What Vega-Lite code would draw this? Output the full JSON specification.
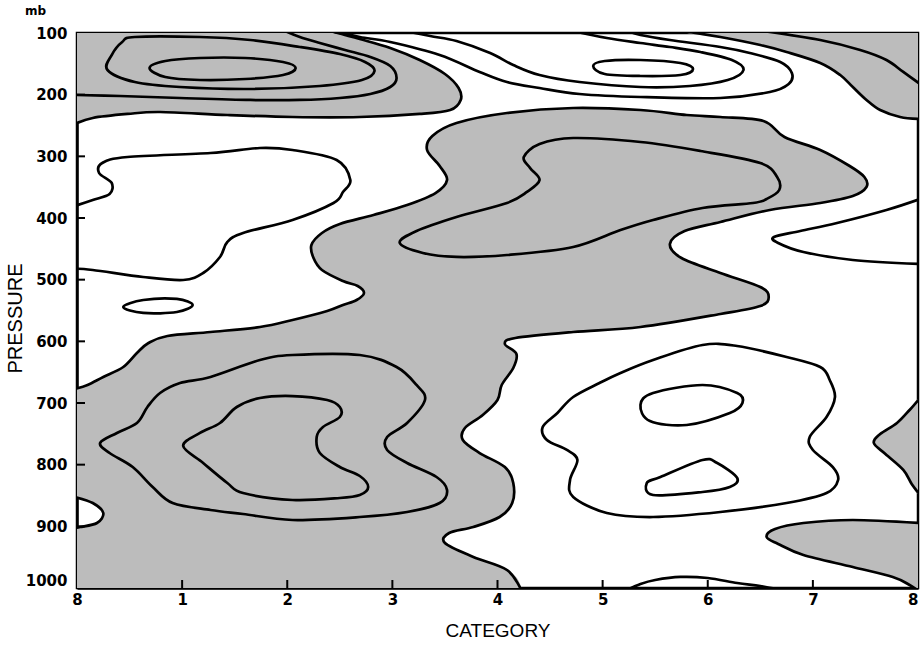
{
  "$schema": "https://vega.github.io/schema/vega-lite/v6.json",
  "width": 841,
  "height": 555,
  "autosize": "none",
  "padding": {"left": 77, "top": 33, "right": 4, "bottom": 58},
  "background": "white",
  "title": {"text": "mb", "anchor": "start", "frame": "bounds", "font": "DejaVu Sans", "fontSize": 12, "fontWeight": "bold", "color": "black", "dx": 20, "offset": 8},
  "config": {
    "view": {"stroke": "black", "strokeWidth": 2.5},
    "axis": {"zindex": 1, "ticks": false, "domainColor": "black", "domainWidth": 2.5, "labelColor": "black", "titleColor": "black", "grid": false,
             "labelFont": "DejaVu Sans", "labelFontWeight": "bold", "labelFontSize": 15, "titleFont": "Liberation Sans", "titleFontWeight": "normal", "titleFontSize": 19}
  },
  "datasets": {
    "ticks": [
      {"x":1,"x2":1,"p":1000,"p2":987},
      {"x":2,"x2":2,"p":1000,"p2":987},
      {"x":3,"x2":3,"p":1000,"p2":987},
      {"x":4,"x2":4,"p":1000,"p2":987},
      {"x":5,"x2":5,"p":1000,"p2":987},
      {"x":6,"x2":6,"p":1000,"p2":987},
      {"x":7,"x2":7,"p":1000,"p2":987},
      {"x":0,"x2":0.076,"p":200,"p2":200},
      {"x":0,"x2":0.076,"p":300,"p2":300},
      {"x":0,"x2":0.076,"p":400,"p2":400},
      {"x":0,"x2":0.076,"p":500,"p2":500},
      {"x":0,"x2":0.076,"p":600,"p2":600},
      {"x":0,"x2":0.076,"p":700,"p2":700},
      {"x":0,"x2":0.076,"p":800,"p2":800},
      {"x":0,"x2":0.076,"p":900,"p2":900}
    ],
    "contours": [
      {"g":"G1","s":"Z1","k":"o","i":1,"x":2.41,"p":96.8},
      {"g":"G1","s":"Z1","k":"o","i":2,"x":2.69,"p":109.7},
      {"g":"G1","s":"Z1","k":"o","i":3,"x":2.98,"p":124.3},
      {"g":"G1","s":"Z1","k":"o","i":4,"x":3.26,"p":143.8},
      {"g":"G1","s":"Z1","k":"o","i":5,"x":3.50,"p":166.5},
      {"g":"G1","s":"Z1","k":"o","i":6,"x":3.63,"p":189.2},
      {"g":"G1","s":"Z1","k":"o","i":7,"x":3.65,"p":208.6},
      {"g":"G1","s":"Z1","k":"o","i":8,"x":3.55,"p":224.9},
      {"g":"G1","s":"Z1","k":"o","i":9,"x":3.26,"p":231.3},
      {"g":"G1","s":"Z1","k":"o","i":10,"x":2.69,"p":236.2},
      {"g":"G1","s":"Z1","k":"o","i":11,"x":2.05,"p":236.2},
      {"g":"G1","s":"Z1","k":"o","i":12,"x":1.43,"p":233.0},
      {"g":"G1","s":"Z1","k":"o","i":13,"x":0.79,"p":228.1},
      {"g":"G1","s":"Z1","k":"o","i":14,"x":0.48,"p":231.3},
      {"g":"G1","s":"Z1","k":"o","i":15,"x":0.15,"p":237.8},
      {"g":"G1","s":"Z1","k":"o","i":16,"x":-0.02,"p":247.6},
      {"g":"G1","i":17,"x":-0.3,"p":250},
      {"g":"G1","i":18,"x":-0.3,"p":60},
      {"g":"G1","i":19,"x":2.3,"p":60},

      {"g":"G2","s":"Z2","k":"o","i":1,"x":5.76,"p":96.8},
      {"g":"G2","s":"Z2","k":"o","i":2,"x":6.12,"p":106.5},
      {"g":"G2","s":"Z2","k":"o","i":3,"x":6.50,"p":119.5},
      {"g":"G2","s":"Z2","k":"o","i":4,"x":6.75,"p":130.8},
      {"g":"G2","s":"Z2","k":"o","i":5,"x":7.07,"p":148.6},
      {"g":"G2","s":"Z2","k":"o","i":6,"x":7.26,"p":168.1},
      {"g":"G2","s":"Z2","k":"o","i":7,"x":7.38,"p":187.6},
      {"g":"G2","s":"Z2","k":"o","i":8,"x":7.51,"p":208.6},
      {"g":"G2","s":"Z2","k":"o","i":9,"x":7.64,"p":224.9},
      {"g":"G2","s":"Z2","k":"o","i":10,"x":7.83,"p":236.2},
      {"g":"G2","s":"Z2","k":"o","i":11,"x":8.02,"p":239.5},
      {"g":"G2","i":12,"x":8.3,"p":242},
      {"g":"G2","i":13,"x":8.3,"p":60},
      {"g":"G2","i":14,"x":5.7,"p":60},

      {"g":"G3","s":"Z3","k":"o","i":1,"x":4.23,"p":1004.9},
      {"g":"G3","s":"Z3","k":"o","i":2,"x":4.09,"p":970.8},
      {"g":"G3","s":"Z3","k":"o","i":3,"x":3.77,"p":949.7},
      {"g":"G3","s":"Z3","k":"o","i":4,"x":3.50,"p":927.0},
      {"g":"G3","s":"Z3","k":"o","i":5,"x":3.54,"p":910.8},
      {"g":"G3","s":"Z3","k":"o","i":6,"x":3.77,"p":901.1},
      {"g":"G3","s":"Z3","k":"o","i":7,"x":4.02,"p":884.9},
      {"g":"G3","s":"Z3","k":"o","i":8,"x":4.14,"p":862.2},
      {"g":"G3","s":"Z3","k":"o","i":9,"x":4.15,"p":829.7},
      {"g":"G3","s":"Z3","k":"o","i":10,"x":4.07,"p":803.8},
      {"g":"G3","s":"Z3","k":"o","i":11,"x":3.83,"p":781.1},
      {"g":"G3","s":"Z3","k":"o","i":12,"x":3.67,"p":760.0},
      {"g":"G3","s":"Z3","k":"o","i":13,"x":3.69,"p":740.5},
      {"g":"G3","s":"Z3","k":"o","i":14,"x":3.86,"p":719.5},
      {"g":"G3","s":"Z3","k":"o","i":15,"x":4.00,"p":695.1},
      {"g":"G3","s":"Z3","k":"o","i":16,"x":4.04,"p":670.8},
      {"g":"G3","s":"Z3","k":"o","i":17,"x":4.15,"p":643.2},
      {"g":"G3","s":"Z3","k":"o","i":18,"x":4.18,"p":620.5},
      {"g":"G3","s":"Z3","k":"o","i":19,"x":4.07,"p":604.3},
      {"g":"G3","s":"Z3","k":"o","i":20,"x":4.17,"p":594.6},
      {"g":"G3","s":"Z3","k":"o","i":21,"x":4.72,"p":584.9},
      {"g":"G3","s":"Z3","k":"o","i":22,"x":5.36,"p":576.8},
      {"g":"G3","s":"Z3","k":"o","i":23,"x":6.12,"p":555.7},
      {"g":"G3","s":"Z3","k":"o","i":24,"x":6.50,"p":542.7},
      {"g":"G3","s":"Z3","k":"o","i":25,"x":6.58,"p":528.1},
      {"g":"G3","s":"Z3","k":"o","i":26,"x":6.50,"p":511.9},
      {"g":"G3","s":"Z3","k":"o","i":27,"x":6.12,"p":489.2},
      {"g":"G3","s":"Z3","k":"o","i":28,"x":5.75,"p":464.9},
      {"g":"G3","s":"Z3","k":"o","i":29,"x":5.64,"p":442.2},
      {"g":"G3","s":"Z3","k":"o","i":30,"x":5.78,"p":421.1},
      {"g":"G3","s":"Z3","k":"o","i":31,"x":6.12,"p":406.5},
      {"g":"G3","s":"Z3","k":"o","i":32,"x":6.59,"p":387.0},
      {"g":"G3","s":"Z3","k":"o","i":33,"x":7.07,"p":375.7},
      {"g":"G3","s":"Z3","k":"o","i":34,"x":7.38,"p":364.3},
      {"g":"G3","s":"Z3","k":"o","i":35,"x":7.51,"p":349.7},
      {"g":"G3","s":"Z3","k":"o","i":36,"x":7.49,"p":333.5},
      {"g":"G3","s":"Z3","k":"o","i":37,"x":7.35,"p":315.7},
      {"g":"G3","s":"Z3","k":"o","i":38,"x":7.07,"p":289.7},
      {"g":"G3","s":"Z3","k":"o","i":39,"x":6.73,"p":268.6},
      {"g":"G3","s":"Z3","k":"o","i":40,"x":6.53,"p":242.7},
      {"g":"G3","s":"Z3","k":"o","i":41,"x":6.12,"p":236.2},
      {"g":"G3","s":"Z3","k":"o","i":42,"x":5.80,"p":233.0},
      {"g":"G3","s":"Z3","k":"o","i":43,"x":5.36,"p":224.9},
      {"g":"G3","s":"Z3","k":"o","i":44,"x":4.72,"p":221.6},
      {"g":"G3","s":"Z3","k":"o","i":45,"x":4.09,"p":229.7},
      {"g":"G3","s":"Z3","k":"o","i":46,"x":3.61,"p":245.9},
      {"g":"G3","s":"Z3","k":"o","i":47,"x":3.38,"p":267.0},
      {"g":"G3","s":"Z3","k":"o","i":48,"x":3.33,"p":289.7},
      {"g":"G3","s":"Z3","k":"o","i":49,"x":3.45,"p":315.7},
      {"g":"G3","s":"Z3","k":"o","i":50,"x":3.52,"p":338.4},
      {"g":"G3","s":"Z3","k":"o","i":51,"x":3.41,"p":359.5},
      {"g":"G3","s":"Z3","k":"o","i":52,"x":3.14,"p":378.9},
      {"g":"G3","s":"Z3","k":"o","i":53,"x":2.82,"p":395.1},
      {"g":"G3","s":"Z3","k":"o","i":54,"x":2.50,"p":409.7},
      {"g":"G3","s":"Z3","k":"o","i":55,"x":2.33,"p":424.3},
      {"g":"G3","s":"Z3","k":"o","i":56,"x":2.23,"p":443.8},
      {"g":"G3","s":"Z3","k":"o","i":57,"x":2.25,"p":464.9},
      {"g":"G3","s":"Z3","k":"o","i":58,"x":2.33,"p":484.3},
      {"g":"G3","s":"Z3","k":"o","i":59,"x":2.53,"p":502.2},
      {"g":"G3","s":"Z3","k":"o","i":60,"x":2.67,"p":510.3},
      {"g":"G3","s":"Z3","k":"o","i":61,"x":2.73,"p":521.6},
      {"g":"G3","s":"Z3","k":"o","i":62,"x":2.66,"p":533.0},
      {"g":"G3","s":"Z3","k":"o","i":63,"x":2.53,"p":541.1},
      {"g":"G3","s":"Z3","k":"o","i":64,"x":2.38,"p":550.8},
      {"g":"G3","s":"Z3","k":"o","i":65,"x":2.05,"p":565.4},
      {"g":"G3","s":"Z3","k":"o","i":66,"x":1.74,"p":576.8},
      {"g":"G3","s":"Z3","k":"o","i":67,"x":1.27,"p":584.9},
      {"g":"G3","s":"Z3","k":"o","i":68,"x":0.86,"p":591.3},
      {"g":"G3","s":"Z3","k":"o","i":69,"x":0.68,"p":602.7},
      {"g":"G3","s":"Z3","k":"o","i":70,"x":0.57,"p":618.9},
      {"g":"G3","s":"Z3","k":"o","i":71,"x":0.44,"p":641.6},
      {"g":"G3","s":"Z3","k":"o","i":72,"x":0.25,"p":657.8},
      {"g":"G3","s":"Z3","k":"o","i":73,"x":0.10,"p":670.8},
      {"g":"G3","s":"Z3","k":"o","i":74,"x":-0.02,"p":677.3},
      {"g":"G3","i":75,"x":-0.3,"p":680},
      {"g":"G3","i":76,"x":-0.3,"p":850},
      {"g":"G3","s":"Z3n","k":"o","i":77,"x":-0.02,"p":852.4},
      {"g":"G3","s":"Z3n","k":"o","i":78,"x":0.15,"p":862.2},
      {"g":"G3","s":"Z3n","k":"o","i":79,"x":0.25,"p":878.4},
      {"g":"G3","s":"Z3n","k":"o","i":80,"x":0.19,"p":894.6},
      {"g":"G3","s":"Z3n","k":"o","i":81,"x":0.03,"p":901.1},
      {"g":"G3","s":"Z3n","k":"o","i":82,"x":-0.02,"p":902.7},
      {"g":"G3","i":83,"x":-0.3,"p":905},
      {"g":"G3","i":84,"x":-0.3,"p":1100},
      {"g":"G3","i":85,"x":4.2,"p":1100},

      {"g":"G4","s":"Z4","k":"o","i":1,"x":8.02,"p":691.9},
      {"g":"G4","s":"Z4","k":"o","i":2,"x":7.92,"p":711.3},
      {"g":"G4","s":"Z4","k":"o","i":3,"x":7.80,"p":732.4},
      {"g":"G4","s":"Z4","k":"o","i":4,"x":7.64,"p":750.3},
      {"g":"G4","s":"Z4","k":"o","i":5,"x":7.58,"p":764.9},
      {"g":"G4","s":"Z4","k":"o","i":6,"x":7.69,"p":782.7},
      {"g":"G4","s":"Z4","k":"o","i":7,"x":7.86,"p":808.6},
      {"g":"G4","s":"Z4","k":"o","i":8,"x":7.94,"p":831.3},
      {"g":"G4","s":"Z4","k":"o","i":9,"x":8.02,"p":849.2},
      {"g":"G4","i":10,"x":8.3,"p":852},
      {"g":"G4","i":11,"x":8.3,"p":690},

      {"g":"G5","s":"Z5","k":"o","i":1,"x":8.02,"p":894.6},
      {"g":"G5","s":"Z5","k":"o","i":2,"x":7.38,"p":889.7},
      {"g":"G5","s":"Z5","k":"o","i":3,"x":6.91,"p":894.6},
      {"g":"G5","s":"Z5","k":"o","i":4,"x":6.64,"p":904.3},
      {"g":"G5","s":"Z5","k":"o","i":5,"x":6.56,"p":917.3},
      {"g":"G5","s":"Z5","k":"o","i":6,"x":6.67,"p":928.6},
      {"g":"G5","s":"Z5","k":"o","i":7,"x":6.91,"p":946.5},
      {"g":"G5","s":"Z5","k":"o","i":8,"x":7.38,"p":965.9},
      {"g":"G5","s":"Z5","k":"o","i":9,"x":7.76,"p":982.1},
      {"g":"G5","s":"Z5","k":"o","i":10,"x":7.92,"p":995.1},
      {"g":"G5","s":"Z5","k":"o","i":11,"x":8.02,"p":1006.5},
      {"g":"G5","i":12,"x":8.3,"p":1010},
      {"g":"G5","i":13,"x":8.3,"p":890},

      {"s":"c","k":"o","i":1,"x":-0.02,"p":200.5},
      {"s":"c","k":"o","i":2,"x":0.41,"p":202.2},
      {"s":"c","k":"o","i":3,"x":0.98,"p":205.4},
      {"s":"c","k":"o","i":4,"x":1.65,"p":208.6},
      {"s":"c","k":"o","i":5,"x":2.12,"p":208.6},
      {"s":"c","k":"o","i":6,"x":2.50,"p":205.4},
      {"s":"c","k":"o","i":7,"x":2.79,"p":198.9},
      {"s":"c","k":"o","i":8,"x":2.98,"p":187.6},
      {"s":"c","k":"o","i":9,"x":3.04,"p":173.0},
      {"s":"c","k":"o","i":10,"x":2.98,"p":153.5},
      {"s":"c","k":"o","i":11,"x":2.79,"p":138.9},
      {"s":"c","k":"o","i":12,"x":2.55,"p":127.6},
      {"s":"c","k":"o","i":13,"x":2.31,"p":116.2},
      {"s":"c","k":"o","i":14,"x":2.12,"p":106.5},
      {"s":"c","k":"o","i":15,"x":1.98,"p":96.8},

      {"s":"cp","k":"o","i":1,"x":2.47,"p":96.8},
      {"s":"cp","k":"o","i":2,"x":2.69,"p":106.5},
      {"s":"cp","k":"o","i":3,"x":2.98,"p":114.6},
      {"s":"cp","k":"o","i":4,"x":3.45,"p":135.7},
      {"s":"cp","k":"o","i":5,"x":3.83,"p":163.2},
      {"s":"cp","k":"o","i":6,"x":4.09,"p":179.5},
      {"s":"cp","k":"o","i":7,"x":4.40,"p":189.2},
      {"s":"cp","k":"o","i":8,"x":4.78,"p":198.9},
      {"s":"cp","k":"o","i":9,"x":5.36,"p":203.8},
      {"s":"cp","k":"o","i":10,"x":6.12,"p":205.4},
      {"s":"cp","k":"o","i":11,"x":6.59,"p":195.7},
      {"s":"cp","k":"o","i":12,"x":6.77,"p":182.7},
      {"s":"cp","k":"o","i":13,"x":6.80,"p":164.9},
      {"s":"cp","k":"o","i":14,"x":6.69,"p":147.0},
      {"s":"cp","k":"o","i":15,"x":6.40,"p":132.4},
      {"s":"cp","k":"o","i":16,"x":6.12,"p":122.7},
      {"s":"cp","k":"o","i":17,"x":5.64,"p":111.4},
      {"s":"cp","k":"o","i":18,"x":5.36,"p":103.2},
      {"s":"cp","k":"o","i":19,"x":5.24,"p":96.8},

      {"s":"bp","k":"o","i":1,"x":3.12,"p":96.8},
      {"s":"bp","k":"o","i":2,"x":3.36,"p":104.9},
      {"s":"bp","k":"o","i":3,"x":3.61,"p":113.0},
      {"s":"bp","k":"o","i":4,"x":3.93,"p":132.4},
      {"s":"bp","k":"o","i":5,"x":4.15,"p":151.9},
      {"s":"bp","k":"o","i":6,"x":4.40,"p":168.1},
      {"s":"bp","k":"o","i":7,"x":4.78,"p":179.5},
      {"s":"bp","k":"o","i":8,"x":5.36,"p":187.6},
      {"s":"bp","k":"o","i":9,"x":5.83,"p":185.9},
      {"s":"bp","k":"o","i":10,"x":6.19,"p":176.2},
      {"s":"bp","k":"o","i":11,"x":6.34,"p":160.0},
      {"s":"bp","k":"o","i":12,"x":6.23,"p":143.8},
      {"s":"bp","k":"o","i":13,"x":5.93,"p":130.8},
      {"s":"bp","k":"o","i":14,"x":5.64,"p":122.7},
      {"s":"bp","k":"o","i":15,"x":5.36,"p":116.2},
      {"s":"bp","k":"o","i":16,"x":5.04,"p":108.1},
      {"s":"bp","k":"o","i":17,"x":4.72,"p":96.8},

      {"s":"g2i","k":"o","i":1,"x":6.53,"p":96.8},
      {"s":"g2i","k":"o","i":2,"x":7.07,"p":111.4},
      {"s":"g2i","k":"o","i":3,"x":7.45,"p":127.6},
      {"s":"g2i","k":"o","i":4,"x":7.70,"p":143.8},
      {"s":"g2i","k":"o","i":5,"x":7.86,"p":163.2},
      {"s":"g2i","k":"o","i":6,"x":8.02,"p":182.7},

      {"s":"w1","k":"o","i":1,"x":-0.02,"p":380.5},
      {"s":"w1","k":"o","i":2,"x":0.15,"p":370.8},
      {"s":"w1","k":"o","i":3,"x":0.31,"p":361.1},
      {"s":"w1","k":"o","i":4,"x":0.33,"p":343.2},
      {"s":"w1","k":"o","i":5,"x":0.21,"p":327.0},
      {"s":"w1","k":"o","i":6,"x":0.24,"p":310.8},
      {"s":"w1","k":"o","i":7,"x":0.48,"p":301.1},
      {"s":"w1","k":"o","i":8,"x":1.27,"p":294.6},
      {"s":"w1","k":"o","i":9,"x":1.74,"p":286.5},
      {"s":"w1","k":"o","i":10,"x":2.05,"p":289.7},
      {"s":"w1","k":"o","i":11,"x":2.47,"p":305.9},
      {"s":"w1","k":"o","i":12,"x":2.60,"p":338.4},
      {"s":"w1","k":"o","i":13,"x":2.53,"p":357.8},
      {"s":"w1","k":"o","i":14,"x":2.44,"p":375.7},
      {"s":"w1","k":"o","i":15,"x":2.05,"p":403.2},
      {"s":"w1","k":"o","i":16,"x":1.58,"p":424.3},
      {"s":"w1","k":"o","i":17,"x":1.43,"p":438.9},
      {"s":"w1","k":"o","i":18,"x":1.36,"p":463.2},
      {"s":"w1","k":"o","i":19,"x":1.20,"p":489.2},
      {"s":"w1","k":"o","i":20,"x":1.01,"p":500.5},
      {"s":"w1","k":"o","i":21,"x":0.63,"p":495.7},
      {"s":"w1","k":"o","i":22,"x":0.15,"p":484.3},
      {"s":"w1","k":"o","i":23,"x":-0.02,"p":482.7},

      {"s":"rw","k":"o","i":1,"x":8.02,"p":369.2},
      {"s":"rw","k":"o","i":2,"x":7.70,"p":387.0},
      {"s":"rw","k":"o","i":3,"x":7.23,"p":408.1},
      {"s":"rw","k":"o","i":4,"x":6.88,"p":421.1},
      {"s":"rw","k":"o","i":5,"x":6.63,"p":430.8},
      {"s":"rw","k":"o","i":6,"x":6.67,"p":440.5},
      {"s":"rw","k":"o","i":7,"x":6.91,"p":455.1},
      {"s":"rw","k":"o","i":8,"x":7.38,"p":468.1},
      {"s":"rw","k":"o","i":9,"x":8.02,"p":474.6},

      {"s":"bot","k":"o","i":1,"x":5.21,"p":1004.9},
      {"s":"bot","k":"o","i":2,"x":5.36,"p":993.5},
      {"s":"bot","k":"o","i":3,"x":5.50,"p":987.0},
      {"s":"bot","k":"o","i":4,"x":5.74,"p":982.1},
      {"s":"bot","k":"o","i":5,"x":6.00,"p":983.8},
      {"s":"bot","k":"o","i":6,"x":6.28,"p":991.9},
      {"s":"bot","k":"o","i":7,"x":6.50,"p":996.7},
      {"s":"bot","k":"o","i":8,"x":6.71,"p":1003.2},

      {"s":"a","k":"c","i":1,"x":0.69,"p":156.8},
      {"s":"a","k":"c","i":2,"x":0.84,"p":145.4},
      {"s":"a","k":"c","i":3,"x":1.17,"p":140.5},
      {"s":"a","k":"c","i":4,"x":1.60,"p":140.5},
      {"s":"a","k":"c","i":5,"x":1.96,"p":147.0},
      {"s":"a","k":"c","i":6,"x":2.08,"p":156.8},
      {"s":"a","k":"c","i":7,"x":1.96,"p":168.1},
      {"s":"a","k":"c","i":8,"x":1.60,"p":174.6},
      {"s":"a","k":"c","i":9,"x":1.17,"p":176.2},
      {"s":"a","k":"c","i":10,"x":0.84,"p":171.4},

      {"s":"b","k":"c","i":1,"x":0.29,"p":160.0},
      {"s":"b","k":"c","i":2,"x":0.33,"p":135.7},
      {"s":"b","k":"c","i":3,"x":0.43,"p":114.6},
      {"s":"b","k":"c","i":4,"x":0.55,"p":106.5},
      {"s":"b","k":"c","i":5,"x":1.17,"p":106.5},
      {"s":"b","k":"c","i":6,"x":1.65,"p":111.4},
      {"s":"b","k":"c","i":7,"x":2.12,"p":122.7},
      {"s":"b","k":"c","i":8,"x":2.50,"p":134.1},
      {"s":"b","k":"c","i":9,"x":2.74,"p":147.0},
      {"s":"b","k":"c","i":10,"x":2.83,"p":161.6},
      {"s":"b","k":"c","i":11,"x":2.71,"p":176.2},
      {"s":"b","k":"c","i":12,"x":2.31,"p":185.9},
      {"s":"b","k":"c","i":13,"x":1.65,"p":190.8},
      {"s":"b","k":"c","i":14,"x":0.98,"p":187.6},
      {"s":"b","k":"c","i":15,"x":0.55,"p":179.5},

      {"s":"sm","k":"c","i":1,"x":4.91,"p":153.5},
      {"s":"sm","k":"c","i":2,"x":5.02,"p":145.4},
      {"s":"sm","k":"c","i":3,"x":5.36,"p":143.8},
      {"s":"sm","k":"c","i":4,"x":5.74,"p":148.6},
      {"s":"sm","k":"c","i":5,"x":5.86,"p":158.4},
      {"s":"sm","k":"c","i":6,"x":5.74,"p":168.1},
      {"s":"sm","k":"c","i":7,"x":5.36,"p":169.7},
      {"s":"sm","k":"c","i":8,"x":5.02,"p":166.5},

      {"s":"sl","k":"c","i":1,"x":0.44,"p":544.3},
      {"s":"sl","k":"c","i":2,"x":0.63,"p":533.0},
      {"s":"sl","k":"c","i":3,"x":0.95,"p":531.3},
      {"s":"sl","k":"c","i":4,"x":1.10,"p":541.1},
      {"s":"sl","k":"c","i":5,"x":0.95,"p":552.4},
      {"s":"sl","k":"c","i":6,"x":0.63,"p":554.0},

      {"s":"D","k":"c","i":1,"x":3.07,"p":440.5},
      {"s":"D","k":"c","i":2,"x":3.23,"p":421.1},
      {"s":"D","k":"c","i":3,"x":3.61,"p":398.4},
      {"s":"D","k":"c","i":4,"x":4.09,"p":375.7},
      {"s":"D","k":"c","i":5,"x":4.28,"p":357.8},
      {"s":"D","k":"c","i":6,"x":4.40,"p":338.4},
      {"s":"D","k":"c","i":7,"x":4.31,"p":318.9},
      {"s":"D","k":"c","i":8,"x":4.25,"p":301.1},
      {"s":"D","k":"c","i":9,"x":4.40,"p":280.0},
      {"s":"D","k":"c","i":10,"x":4.72,"p":270.3},
      {"s":"D","k":"c","i":11,"x":5.36,"p":276.8},
      {"s":"D","k":"c","i":12,"x":5.93,"p":291.3},
      {"s":"D","k":"c","i":13,"x":6.50,"p":310.8},
      {"s":"D","k":"c","i":14,"x":6.66,"p":333.5},
      {"s":"D","k":"c","i":15,"x":6.68,"p":354.6},
      {"s":"D","k":"c","i":16,"x":6.56,"p":369.2},
      {"s":"D","k":"c","i":17,"x":6.43,"p":375.7},
      {"s":"D","k":"c","i":18,"x":5.95,"p":383.8},
      {"s":"D","k":"c","i":19,"x":5.48,"p":403.2},
      {"s":"D","k":"c","i":20,"x":5.17,"p":419.5},
      {"s":"D","k":"c","i":21,"x":4.72,"p":447.0},
      {"s":"D","k":"c","i":22,"x":4.09,"p":460.0},
      {"s":"D","k":"c","i":23,"x":3.61,"p":463.2},
      {"s":"D","k":"c","i":24,"x":3.29,"p":456.8},

      {"s":"E1","k":"c","i":1,"x":0.22,"p":764.9},
      {"s":"E1","k":"c","i":2,"x":0.38,"p":748.6},
      {"s":"E1","k":"c","i":3,"x":0.57,"p":732.4},
      {"s":"E1","k":"c","i":4,"x":0.67,"p":706.5},
      {"s":"E1","k":"c","i":5,"x":0.79,"p":683.8},
      {"s":"E1","k":"c","i":6,"x":0.98,"p":667.6},
      {"s":"E1","k":"c","i":7,"x":1.27,"p":657.8},
      {"s":"E1","k":"c","i":8,"x":1.74,"p":630.3},
      {"s":"E1","k":"c","i":9,"x":2.05,"p":622.2},
      {"s":"E1","k":"c","i":10,"x":2.69,"p":622.2},
      {"s":"E1","k":"c","i":11,"x":3.04,"p":641.6},
      {"s":"E1","k":"c","i":12,"x":3.23,"p":670.8},
      {"s":"E1","k":"c","i":13,"x":3.31,"p":695.1},
      {"s":"E1","k":"c","i":14,"x":3.14,"p":732.4},
      {"s":"E1","k":"c","i":15,"x":2.95,"p":755.1},
      {"s":"E1","k":"c","i":16,"x":2.95,"p":776.2},
      {"s":"E1","k":"c","i":17,"x":3.14,"p":797.3},
      {"s":"E1","k":"c","i":18,"x":3.42,"p":820.0},
      {"s":"E1","k":"c","i":19,"x":3.52,"p":841.1},
      {"s":"E1","k":"c","i":20,"x":3.45,"p":862.2},
      {"s":"E1","k":"c","i":21,"x":3.14,"p":876.8},
      {"s":"E1","k":"c","i":22,"x":2.69,"p":884.9},
      {"s":"E1","k":"c","i":23,"x":2.05,"p":889.7},
      {"s":"E1","k":"c","i":24,"x":1.58,"p":880.0},
      {"s":"E1","k":"c","i":25,"x":1.27,"p":873.5},
      {"s":"E1","k":"c","i":26,"x":0.91,"p":862.2},
      {"s":"E1","k":"c","i":27,"x":0.72,"p":836.2},
      {"s":"E1","k":"c","i":28,"x":0.53,"p":803.8},
      {"s":"E1","k":"c","i":29,"x":0.31,"p":781.1},

      {"s":"E2","k":"c","i":1,"x":1.01,"p":769.7},
      {"s":"E2","k":"c","i":2,"x":1.17,"p":748.6},
      {"s":"E2","k":"c","i":3,"x":1.36,"p":732.4},
      {"s":"E2","k":"c","i":4,"x":1.52,"p":706.5},
      {"s":"E2","k":"c","i":5,"x":1.74,"p":691.9},
      {"s":"E2","k":"c","i":6,"x":2.05,"p":688.7},
      {"s":"E2","k":"c","i":7,"x":2.38,"p":695.1},
      {"s":"E2","k":"c","i":8,"x":2.50,"p":706.5},
      {"s":"E2","k":"c","i":9,"x":2.50,"p":722.7},
      {"s":"E2","k":"c","i":10,"x":2.34,"p":738.9},
      {"s":"E2","k":"c","i":11,"x":2.28,"p":755.1},
      {"s":"E2","k":"c","i":12,"x":2.31,"p":781.1},
      {"s":"E2","k":"c","i":13,"x":2.50,"p":803.8},
      {"s":"E2","k":"c","i":14,"x":2.69,"p":818.4},
      {"s":"E2","k":"c","i":15,"x":2.77,"p":836.2},
      {"s":"E2","k":"c","i":16,"x":2.69,"p":849.2},
      {"s":"E2","k":"c","i":17,"x":2.50,"p":854.1},
      {"s":"E2","k":"c","i":18,"x":2.05,"p":857.3},
      {"s":"E2","k":"c","i":19,"x":1.58,"p":846.0},
      {"s":"E2","k":"c","i":20,"x":1.43,"p":829.7},
      {"s":"E2","k":"c","i":21,"x":1.20,"p":797.3},

      {"s":"R1","k":"c","i":1,"x":5.17,"p":651.3},
      {"s":"R1","k":"c","i":2,"x":5.48,"p":630.3},
      {"s":"R1","k":"c","i":3,"x":5.95,"p":605.9},
      {"s":"R1","k":"c","i":4,"x":6.28,"p":607.6},
      {"s":"R1","k":"c","i":5,"x":6.75,"p":625.4},
      {"s":"R1","k":"c","i":6,"x":7.07,"p":641.6},
      {"s":"R1","k":"c","i":7,"x":7.16,"p":662.7},
      {"s":"R1","k":"c","i":8,"x":7.21,"p":690.3},
      {"s":"R1","k":"c","i":9,"x":7.13,"p":722.7},
      {"s":"R1","k":"c","i":10,"x":6.97,"p":755.1},
      {"s":"R1","k":"c","i":11,"x":7.00,"p":776.2},
      {"s":"R1","k":"c","i":12,"x":7.19,"p":803.8},
      {"s":"R1","k":"c","i":13,"x":7.24,"p":824.9},
      {"s":"R1","k":"c","i":14,"x":7.13,"p":845.9},
      {"s":"R1","k":"c","i":15,"x":6.75,"p":862.2},
      {"s":"R1","k":"c","i":16,"x":6.12,"p":876.8},
      {"s":"R1","k":"c","i":17,"x":5.48,"p":884.9},
      {"s":"R1","k":"c","i":18,"x":5.04,"p":878.4},
      {"s":"R1","k":"c","i":19,"x":4.72,"p":852.4},
      {"s":"R1","k":"c","i":20,"x":4.69,"p":824.9},
      {"s":"R1","k":"c","i":21,"x":4.76,"p":792.4},
      {"s":"R1","k":"c","i":22,"x":4.66,"p":776.2},
      {"s":"R1","k":"c","i":23,"x":4.47,"p":760.0},
      {"s":"R1","k":"c","i":24,"x":4.43,"p":738.9},
      {"s":"R1","k":"c","i":25,"x":4.57,"p":716.2},
      {"s":"R1","k":"c","i":26,"x":4.72,"p":690.3},
      {"s":"R1","k":"c","i":27,"x":4.97,"p":667.6},

      {"s":"R2","k":"c","i":1,"x":5.36,"p":703.2},
      {"s":"R2","k":"c","i":2,"x":5.48,"p":683.8},
      {"s":"R2","k":"c","i":3,"x":5.95,"p":670.8},
      {"s":"R2","k":"c","i":4,"x":6.28,"p":683.8},
      {"s":"R2","k":"c","i":5,"x":6.33,"p":700.0},
      {"s":"R2","k":"c","i":6,"x":6.21,"p":716.2},
      {"s":"R2","k":"c","i":7,"x":5.80,"p":735.7},
      {"s":"R2","k":"c","i":8,"x":5.45,"p":729.2},

      {"s":"R3","k":"c","i":1,"x":5.42,"p":829.7},
      {"s":"R3","k":"c","i":2,"x":5.55,"p":820.0},
      {"s":"R3","k":"c","i":3,"x":5.95,"p":792.4},
      {"s":"R3","k":"c","i":4,"x":6.09,"p":797.3},
      {"s":"R3","k":"c","i":5,"x":6.28,"p":821.6},
      {"s":"R3","k":"c","i":6,"x":6.21,"p":836.2},
      {"s":"R3","k":"c","i":7,"x":5.95,"p":844.3},
      {"s":"R3","k":"c","i":8,"x":5.48,"p":849.2}
    ]
  },
  "encoding": {
    "x": {"field": "x", "type": "quantitative",
          "scale": {"domain": [0, 8], "nice": false, "zero": false},
          "axis": {"title": "CATEGORY", "values": [0, 1, 2, 3, 4, 5, 6, 7, 8], "format": "d",
                   "labelExpr": "datum.value == 0 ? '8' : datum.label",
                   "labelAlign": {"condition": {"test": "datum.value == 8", "value": "right"}, "value": "center"},
                   "labelPadding": 4, "titlePadding": 14, "labelFlush": false}},
    "y": {"field": "p", "type": "quantitative",
          "scale": {"domain": [100, 1000], "reverse": true, "nice": false, "zero": false},
          "axis": {"title": "PRESSURE", "values": [100, 200, 300, 400, 500, 600, 700, 800, 900, 1000], "format": "d",
                   "labelBaseline": {"condition": {"test": "datum.value == 1000", "value": "bottom"}, "value": "middle"},
                   "labelPadding": 10, "titleX": -52, "titleY": 285, "labelFlush": false, "titleFontSize": 20}}
  },
  "layer": [
    {
      "data": {"name": "contours"},
      "transform": [{"filter": "isValid(datum.g)"}],
      "mark": {"type": "line", "interpolate": "cardinal-closed", "fill": "#bcbcbc", "stroke": "#bcbcbc", "strokeOpacity": 0, "clip": true},
      "encoding": {"detail": {"field": "g"}, "order": {"field": "i", "type": "quantitative"}}
    },
    {
      "data": {"name": "contours"},
      "transform": [{"filter": "isValid(datum.s) && datum.k == 'o'"}],
      "mark": {"type": "line", "interpolate": "cardinal", "color": "black", "strokeWidth": 2.7, "strokeCap": "round", "strokeJoin": "round", "clip": true},
      "encoding": {"detail": {"field": "s"}, "order": {"field": "i", "type": "quantitative"}}
    },
    {
      "data": {"name": "contours"},
      "transform": [{"filter": "datum.k == 'c'"}],
      "mark": {"type": "line", "interpolate": "cardinal-closed", "color": "black", "strokeWidth": 2.7, "strokeJoin": "round", "clip": true},
      "encoding": {"detail": {"field": "s"}, "order": {"field": "i", "type": "quantitative"}}
    },
    {
      "data": {"name": "ticks"},
      "mark": {"type": "rule", "color": "black", "strokeWidth": 2},
      "encoding": {"x2": {"field": "x2"}, "y2": {"field": "p2"}}
    }
  ]
}
